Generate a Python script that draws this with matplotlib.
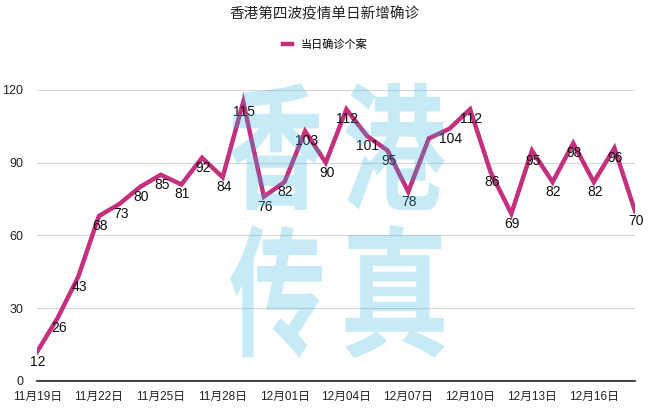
import matplotlib
matplotlib.use('Agg')
import matplotlib.pyplot as plt
from matplotlib.font_manager import FontProperties
from matplotlib.textpath import TextPath
from matplotlib.patches import PathPatch
from matplotlib.transforms import Affine2D

plt.rcParams['font.family'] = ['Liberation Sans', 'Noto Sans CJK SC', 'DejaVu Sans']

# 数据
dates = ['11月19日', '11月20日', '11月21日', '11月22日', '11月23日', '11月24日',
         '11月25日', '11月26日', '11月27日', '11月28日', '11月29日', '11月30日',
         '12月01日', '12月02日', '12月03日', '12月04日', '12月05日', '12月06日',
         '12月07日', '12月08日', '12月09日', '12月10日', '12月11日', '12月12日',
         '12月13日', '12月14日', '12月15日', '12月16日', '12月17日', '12月18日']
cases = [12, 26, 43, 68, 73, 80, 85, 81, 92, 84, 115, 76, 82, 103, 90, 112,
         101, 95, 78, 100, 104, 112, 86, 69, 95, 82, 98, 82, 96, 70]
# 图中12月08日的数值没有标注
hidden_labels = ['12月08日']

line_color = '#C42F7E'

fig = plt.figure(figsize=(6.5, 4.2), dpi=100, facecolor='white')
ax = fig.add_axes([0.057, 0.093, 0.92, 0.693])

x = list(range(len(dates)))
ax.plot(x, cases, color=line_color, lw=3.2, solid_joinstyle='miter', zorder=3,
        label='当日确诊个案')

for xi, d, v in zip(x, dates, cases):
    if d in hidden_labels:
        continue
    ax.annotate(str(v), xy=(xi, v), xytext=(1, -10), textcoords='offset pixels',
                ha='center', va='center', fontsize=10, color='#111111', zorder=4)

ax.set_xlim(0, len(dates) - 1)
ax.set_ylim(0, 120)
ax.set_yticks([0, 30, 60, 90, 120])
ax.set_xticks(x[::3])
ax.set_xticklabels(dates[::3], fontsize=8.5, color='#222222')
ax.tick_params(axis='y', length=0, pad=10, labelsize=9, labelcolor='#222222')
ax.tick_params(axis='x', length=0, pad=7)
ax.grid(axis='y', color='#d8d8d8', lw=0.8)
ax.set_axisbelow(True)
for s in ['left', 'right', 'top']:
    ax.spines[s].set_visible(False)
ax.spines['bottom'].set_color('#333333')
ax.spines['bottom'].set_linewidth(1.3)
ax.spines['bottom'].set_zorder(5)

fig.text(0.5, 0.966, '香港第四波疫情单日新增确诊', ha='center', va='center',
         fontsize=10.5, color='#222222')
ax.legend(loc='center', bbox_to_anchor=(0.5, 0.893), bbox_transform=fig.transFigure,
          frameon=False, fontsize=8, handlelength=0.8, handletextpad=0.8)

# 水印 "香港传真"
wm_prop = FontProperties(family='Noto Sans CJK SC', weight='heavy')
W, H = 650.0, 420.0
wm_boxes = [('香', 230, 83, 322, 210), ('港', 345, 83, 445, 210),
            ('传', 230, 225, 322, 358), ('真', 345, 225, 445, 358)]
for ch, x0, y0, x1, y1 in wm_boxes:
    tp = TextPath((0, 0), ch, size=1, prop=wm_prop)
    ext = tp.get_extents()
    sx = (x1 - x0) / W / ext.width
    sy = (y1 - y0) / H / ext.height
    tr = (Affine2D().translate(-ext.x0, -ext.y0).scale(sx, sy)
          .translate(x0 / W, 1 - y1 / H) + fig.transFigure)
    fig.patches.append(PathPatch(tp, transform=tr, facecolor='#2DB2DE',
                                 edgecolor='none', alpha=0.27, zorder=10))

fig.savefig('out.png', dpi=100, facecolor='white')
